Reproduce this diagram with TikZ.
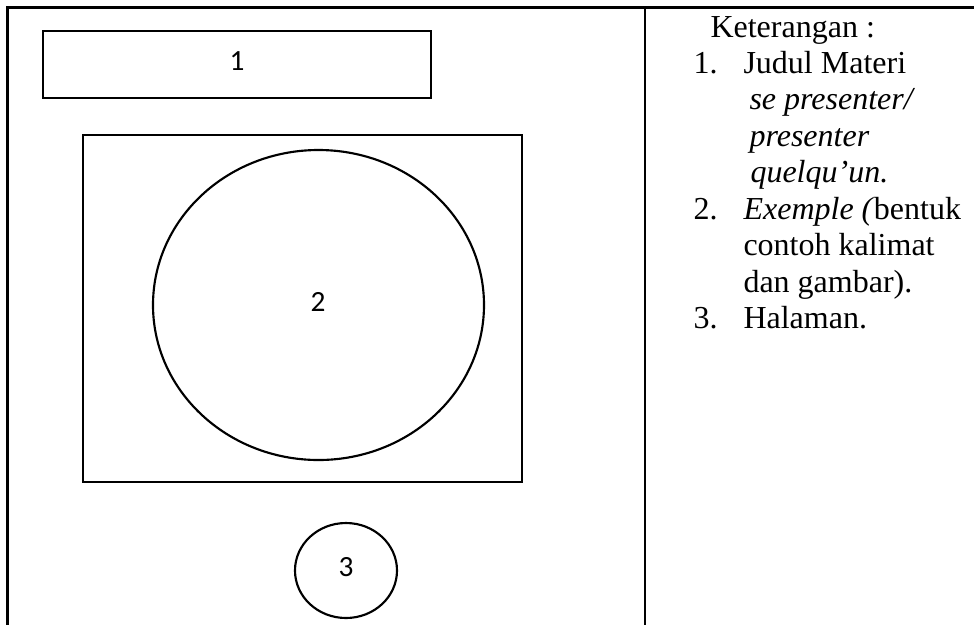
\documentclass[tikz,border=0pt]{standalone}
\usepackage{fontspec}
\setmainfont{Liberation Serif}
\newfontfamily\calfont{Carlito}
\begin{document}
\begin{tikzpicture}[x=0.375pt,y=-0.375pt,
  frame/.style={line width=1pt},
  outl/.style={line width=0.8pt},
  num/.style={font=\calfont\fontsize{11}{13}\selectfont, inner sep=0pt},
  txt/.style={font=\fontsize{12}{13.7}\selectfont, anchor=base west, inner sep=0pt}]
\clip (0,0) rectangle (974,624);
\fill[white] (0,0) rectangle (974,624);
% table frame
\draw[frame] (990,7.5) -- (7.5,7.5) -- (7.5,640);
\draw[frame] (645,7.5) -- (645,640);
% shapes
\draw[outl] (43,31) rectangle (431,98);
\node[num] (n1) at (237,61) {1};
\draw[outl] (83,135) rectangle (522,482);
\draw[outl] (318.5,305) ellipse [x radius=165.5, y radius=155];
\node[num] (n2) at (318,302) {2};
\draw[outl] (346,570.5) ellipse [x radius=51, y radius=47.5];
\node[num] (n3) at (346,567) {3};
% legend
\node[txt] (k) at (710,37) {Keterangan :};
\node[txt] (i1) at (693,73) {1.};
\node[txt] (t1) at (743,73) {Judul Materi};
\node[txt] (t1a) at (749,109) {\itshape se presenter/};
\node[txt] (t1b) at (749,146) {\itshape presenter};
\node[txt] (t1c) at (750,182) {\itshape quelqu’un.};
\node[txt] (i2) at (693,219) {2.};
\node[txt] (t2) at (743,219) {\textit{Exemple (}bentuk};
\node[txt] (t2a) at (743,255) {contoh kalimat};
\node[txt] (t2b) at (743,292) {dan gambar).};
\node[txt] (i3) at (693,328) {3.};
\node[txt] (t3) at (743,328) {Halaman.};
\end{tikzpicture}
\end{document}
